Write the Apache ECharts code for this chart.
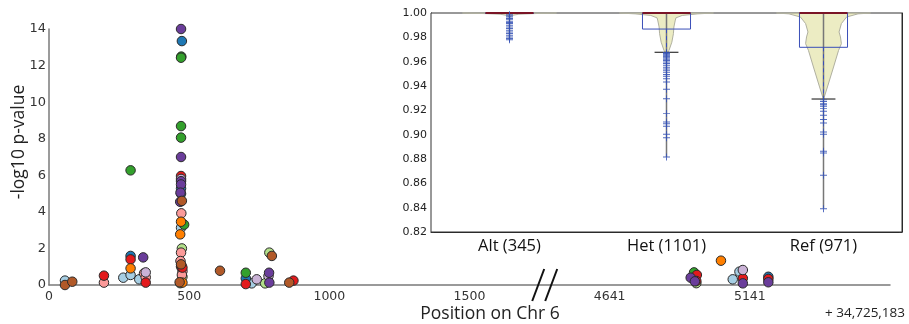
<!DOCTYPE html>
<html>
<head>
<meta charset="utf-8">
<script src="https://cdn.jsdelivr.net/npm/echarts@6/dist/echarts.min.js"></script>
<style>
  html, body { margin: 0; padding: 0; background: #fff; }
  #main { width: 909px; height: 324px; }
</style>
</head>
<body>
<div id="main"></div>
<script>
// main plot: [position offset, -log10 p] per colour group
const lightBlue = [[57, 0.24], [265, 0.40], [291, 0.55], [322, 0.31], [471, 3.13], [723, 0.09], [5080, 0.31], [5104, 0.73]]
const blue = [[291, 1.59], [474, 13.34], [471, 5.28], [471, 4.99], [702, 0.36], [4942, 0.50], [5207, 0.45]]
const lightGreen = [[474, 2.00], [476, 0.45], [468, 0.10], [771, 0.09], [786, 1.77], [4950, 0.10]]
const green = [[291, 6.27], [472, 12.49], [471, 12.43], [471, 8.69], [471, 8.06], [482, 3.30], [702, 0.67], [4942, 0.69]]
const pink = [[196, 0.13], [339, 0.64], [345, 0.42], [472, 3.92], [471, 1.77], [469, 1.31], [476, 0.75], [474, 0.55], [471, 1.00]]
const red = [[196, 0.51], [291, 1.40], [345, 0.13], [471, 5.96], [473, 1.05], [476, 0.95], [702, 0.05], [872, 0.24], [4952, 0.55], [4950, 0.22], [5116, 0.37], [5207, 0.33]]
const orange = [[291, 0.91], [471, 3.46], [468, 2.77], [476, 0.13], [5038, 1.33]]
const lavender = [[345, 0.69], [471, 5.80], [741, 0.31], [783, 0.49], [5116, 0.82]]
const purple = [[336, 1.51], [471, 14.00], [471, 7.00], [471, 5.68], [471, 5.50], [468, 4.55], [469, 5.05], [785, 0.67], [786, 0.13], [4930, 0.40], [4945, 0.20], [5116, 0.09], [5207, 0.15]]
const brown = [[57, 0.00], [83, 0.18], [474, 4.60], [471, 1.13], [466, 0.15], [610, 0.78], [795, 1.59], [857, 0.13]]

const xTickValues = [0, 500, 1000, 1500, 2000, 2500]
const xTickLabels = ['0', '500', '1000', '1500', '4641', '5141']
const yTicks = [0, 2, 4, 6, 8, 10, 12, 14]
const breakAt = 1770
const breakOffset = 2641

// inset
const groups = ['Alt (345)', 'Het (1101)', 'Ref (971)']
const boxHigh = [1.0, 1.0, 1.0]
const boxLow = [1.0, 0.9868, 0.9718]
const whiskerLow = [1.0, 0.9677, 0.9293]
const medians = [1.0, 1.0, 1.0]
const altOutliers = [0.9985, 0.9975, 0.9967, 0.9955, 0.9948, 0.9932, 0.9921, 0.9913, 0.9899, 0.9885, 0.9872, 0.9858, 0.9844, 0.9831, 0.9817, 0.9803, 0.979, 0.9781]
const hetOutliers = [0.9675, 0.9668, 0.966, 0.9652, 0.9645, 0.9638, 0.963, 0.962, 0.961, 0.9598, 0.9585, 0.957, 0.9555, 0.954, 0.9525, 0.951, 0.9495, 0.948, 0.946, 0.9433, 0.9373, 0.9296, 0.9173, 0.9105, 0.909, 0.907, 0.9003, 0.8975, 0.8816]
const refOutliers = [0.9286, 0.9272, 0.9255, 0.9245, 0.9233, 0.9214, 0.9192, 0.9159, 0.9124, 0.9096, 0.9022, 0.9003, 0.8863, 0.885, 0.8666, 0.8392]
// violin outline: [value, half width as share of the category band]
const altViolin = [[1.0, 0.30], [0.9995, 0.15], [0.999, 0.06], [0.998, 0.015], [0.997, 0]]
const hetViolin = [[1.0, 0.30], [0.9993, 0.20], [0.998, 0.10], [0.996, 0.06], [0.9935, 0.055], [0.9885, 0.047], [0.983, 0.044], [0.976, 0.034], [0.9693, 0.016], [0.966, 0]]
const refViolin = [[1.0, 0.30], [0.9993, 0.22], [0.9967, 0.147], [0.9913, 0.114], [0.9844, 0.099], [0.9803, 0.108], [0.9748, 0.114], [0.9693, 0.096], [0.9556, 0.064], [0.9392, 0.025], [0.929, 0]]

const violins = [altViolin, hetViolin, refViolin]
const outliers = [altOutliers, hetOutliers, refOutliers]

const toAxis = (p) => p > breakAt ? p - breakOffset : p

const colourGroups = [
  ['#a6cee3', lightBlue], ['#1f78b4', blue], ['#b2df8a', lightGreen], ['#33a02c', green],
  ['#fb9a99', pink], ['#e31a1c', red], ['#ff7f00', orange], ['#cab2d6', lavender],
  ['#6a3d9a', purple], ['#b15928', brown]
]

const chart = echarts.init(document.getElementById('main'))

const scatterSeries = colourGroups.map(([c, pts]) => ({
  type: 'scatter',
  xAxisIndex: 0,
  yAxisIndex: 0,
  symbolSize: 9.5,
  itemStyle: { color: c, borderColor: '#2a2a2a', borderWidth: 1, opacity: 1 },
  data: pts.map(p => [toAxis(p[0]), p[1]]),
  z: 3
}))

const violinSeries = {
  type: 'custom',
  xAxisIndex: 1,
  yAxisIndex: 1,
  data: groups.map((g, i) => [i, 1]),
  renderItem: function (params, api) {
    const i = api.value(0)
    const band = api.size([1, 0])[0]
    const cx = api.coord([i, 1])[0]
    const shape = violins[i]
    const right = shape.map(s => [cx + s[1] * band, api.coord([i, s[0]])[1]])
    const left = shape.slice().reverse().map(s => [cx - s[1] * band, api.coord([i, s[0]])[1]])
    return {
      type: 'polygon',
      shape: { points: right.concat(left) },
      style: { fill: 'rgba(228,228,170,0.7)', stroke: '#b0b0a0', lineWidth: 1 }
    }
  },
  z: 2
}

const boxSeries = {
  type: 'custom',
  xAxisIndex: 1,
  yAxisIndex: 1,
  data: groups.map((g, i) => [i, boxHigh[i], boxLow[i], whiskerLow[i], medians[i], Math.min.apply(null, outliers[i])]),
  renderItem: function (params, api) {
    const i = api.value(0)
    const band = api.size([1, 0])[0]
    const cx = api.coord([i, 1])[0]
    const yHigh = api.coord([i, api.value(1)])[1]
    const yLow = api.coord([i, api.value(2)])[1]
    const yWhisk = api.coord([i, api.value(3)])[1]
    const yMed = api.coord([i, api.value(4)])[1]
    const yMin = api.coord([i, api.value(5)])[1]
    const bw = band * 0.153
    const cw = band * 0.076
    return {
      type: 'group',
      children: [
        { type: 'line', shape: { x1: cx, y1: yHigh, x2: cx, y2: yMin }, style: { stroke: '#777', lineWidth: 1.5 } },
        { type: 'rect', shape: { x: cx - bw, y: yHigh, width: bw * 2, height: Math.max(yLow - yHigh, 0.5) }, style: { fill: null, stroke: '#3a4fb8', lineWidth: 1 } },
        { type: 'line', shape: { x1: cx, y1: yLow, x2: cx, y2: yWhisk }, style: { stroke: '#3a4fb8', lineWidth: 1, lineDash: [4, 3] } },
        { type: 'line', shape: { x1: cx - cw, y1: yWhisk, x2: cx + cw, y2: yWhisk }, style: { stroke: '#333', lineWidth: 1.2 } },
        { type: 'line', shape: { x1: cx - bw, y1: yMed, x2: cx + bw, y2: yMed }, style: { stroke: '#7a1426', lineWidth: 2 } }
      ]
    }
  },
  z: 3
}

const outlierSeries = {
  type: 'scatter',
  xAxisIndex: 1,
  yAxisIndex: 1,
  symbol: 'path://M4.3,0H5.7V4.3H10V5.7H5.7V10H4.3V5.7H0V4.3H4.3Z',
  symbolSize: 7,
  itemStyle: { color: '#3552b5', opacity: 0.85 },
  data: [].concat(...outliers.map((arr, i) => arr.map(v => [i, v]))),
  z: 4
}

const option = {
  animation: false,
  backgroundColor: '#fff',
  grid: [
    { left: 49, right: 19, top: 29, bottom: 39 },
    { left: 431, right: 7, top: 13, bottom: 92, show: true, backgroundColor: '#fff', borderColor: '#333', borderWidth: 1, z: 1 }
  ],
  xAxis: [
    {
      type: 'value',
      gridIndex: 0,
      min: 0,
      max: 3000,
      interval: 500,
      axisLine: { lineStyle: { color: '#7a7a7a', width: 1.5 } },
      axisTick: { show: false },
      splitLine: { show: false },
      axisLabel: {
        margin: 5,
        fontFamily: 'DejaVu Sans',
        fontSize: 12.5,
        color: '#333',
        showMaxLabel: false,
        formatter: (v) => {
          const k = xTickValues.indexOf(v)
          return k >= 0 ? xTickLabels[k] : ''
        }
      }
    },
    {
      type: 'category',
      gridIndex: 1,
      data: groups,
      axisLine: { lineStyle: { color: '#222', width: 1 } },
      axisTick: { inside: true, alignWithLabel: true, length: 3, lineStyle: { color: '#333' } },
      axisLabel: { margin: 6, fontFamily: 'Open Sans', fontSize: 16.5, color: '#111' }
    }
  ],
  yAxis: [
    {
      type: 'value',
      gridIndex: 0,
      min: yTicks[0],
      max: yTicks[yTicks.length - 1],
      interval: 2,
      axisLine: { show: true, lineStyle: { color: '#7a7a7a', width: 1.5 } },
      axisTick: { show: false },
      splitLine: { show: false },
      axisLabel: { margin: 3, fontFamily: 'DejaVu Sans', fontSize: 13, color: '#333' }
    },
    {
      type: 'value',
      gridIndex: 1,
      min: 0.82,
      max: 1.0,
      interval: 0.02,
      axisLine: { show: true, lineStyle: { color: '#222', width: 1 } },
      axisTick: { show: true, inside: true, length: 3, lineStyle: { color: '#333' } },
      splitLine: { show: false },
      axisLabel: { margin: 4, fontFamily: 'DejaVu Sans', fontSize: 11, color: '#222', formatter: (v) => v.toFixed(2) }
    },
    {
      type: 'value',
      gridIndex: 1,
      position: 'right',
      min: 0.82,
      max: 1.0,
      interval: 0.02,
      axisLine: { show: true, lineStyle: { color: '#222', width: 1 } },
      axisTick: { show: true, inside: true, length: 3, lineStyle: { color: '#333' } },
      axisLabel: { show: false },
      splitLine: { show: false }
    }
  ],
  series: scatterSeries.concat([violinSeries, boxSeries, outlierSeries])
}

chart.setOption(option)

// axis break marks and axis titles
const base = chart.convertToPixel({ gridIndex: 0 }, [breakAt, 0])
const bx = base[0]
const by = base[1]
chart.setOption({
  graphic: [
    { type: 'line', shape: { x1: bx - 1, y1: by - 16, x2: bx - 13, y2: by + 16 }, style: { stroke: '#111', lineWidth: 2 }, z: 10 },
    { type: 'line', shape: { x1: bx + 12, y1: by - 16, x2: bx, y2: by + 16 }, style: { stroke: '#111', lineWidth: 2 }, z: 10 },
    { type: 'text', x: 19, y: 142, rotation: Math.PI / 2, style: { text: '-log10 p-value', fontFamily: 'Open Sans', fontSize: 17.5, fill: '#222', align: 'center', verticalAlign: 'middle' } },
    { type: 'text', x: 490, y: 314, style: { text: 'Position on Chr 6', fontFamily: 'Open Sans', fontSize: 17.5, fill: '#222', align: 'center', verticalAlign: 'middle' } },
    { type: 'text', x: 905, y: 313, style: { text: '+ 34,725,183', fontFamily: 'Open Sans', fontSize: 13.5, fill: '#222', align: 'right', verticalAlign: 'middle' } }
  ]
})
</script>
</body>
</html>
